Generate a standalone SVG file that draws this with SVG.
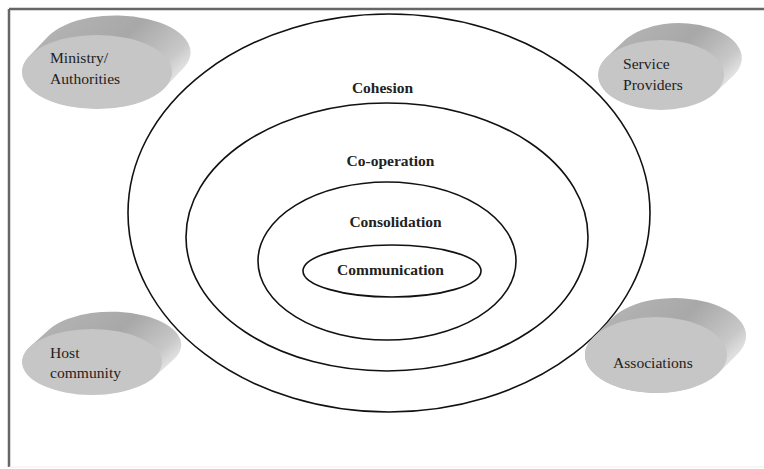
<svg xmlns="http://www.w3.org/2000/svg" width="764" height="469" viewBox="0 0 764 469">
<defs>
<linearGradient id="back" x1="0" y1="0" x2="1" y2="0.6">
<stop offset="0" stop-color="#b8b8b8"/>
<stop offset="0.55" stop-color="#a8a8a8"/>
<stop offset="0.85" stop-color="#c8c8c8"/>
<stop offset="1" stop-color="#ececec"/>
</linearGradient>
</defs>
<style>
.ring{fill:none;stroke:#111;stroke-width:1.6}
.lbl{font-family:'Liberation Serif','Times New Roman','DejaVu Serif',serif;font-weight:bold;font-size:15.5px;fill:#222;text-anchor:middle}
.txt{font-family:'Liberation Serif','Times New Roman','DejaVu Serif',serif;font-size:15.6px;fill:#222}
.back{fill:url(#back)}
.front{fill:#c6c6c6}
</style>
<rect width="764" height="469" fill="#fff"/>
<g id="frame" stroke="#666" stroke-width="2.5" fill="none">
<line x1="9" y1="9" x2="764" y2="9"/>
<line x1="9" y1="9" x2="9" y2="467"/>
</g>
<line x1="9" y1="467" x2="764" y2="467" stroke="#eee" stroke-width="1"/>
<g id="connectors"></g>
<g id="cohesion">
<ellipse class="ring" cx="389" cy="213" rx="261" ry="199"/>
<text class="lbl" x="382.5" y="93">Cohesion</text>
</g>
<g id="cooperation">
<ellipse class="ring" cx="387" cy="237" rx="201" ry="134"/>
<text class="lbl" x="390.5" y="166">Co-operation</text>
</g>
<g id="consolidation">
<ellipse class="ring" cx="387" cy="261" rx="129" ry="79"/>
<text class="lbl" x="395.5" y="227">Consolidation</text>
</g>
<g id="communication">
<ellipse class="ring" cx="392" cy="271" rx="89" ry="26"/>
<text class="lbl" x="390.5" y="275">Communication</text>
</g>
<g id="ministry">
<path class="back" d="M29,56.4 L48,36.4 A75,37 0 0 1 184,67.6 L165,87.6 A75,37 0 0 1 29,56.4 Z"/>
<ellipse class="front" cx="97" cy="72" rx="75" ry="37"/>
<text class="txt" x="50" y="63">Ministry/</text>
<text class="txt" x="50" y="84">Authorities</text>
</g>
<g id="service">
<path class="back" d="M606.7,57.3 L625.7,39.3 A63,35 0 0 1 734.3,74.7 L715.3,92.7 A63,35 0 0 1 606.7,57.3 Z"/>
<ellipse class="front" cx="661" cy="75" rx="63" ry="35"/>
<text class="txt" x="623" y="69">Service</text>
<text class="txt" x="623" y="90">Providers</text>
</g>
<g id="host">
<path class="back" d="M30,346.7 L50,328.7 A70,33 0 0 1 174,359.3 L154,377.3 A70,33 0 0 1 30,346.7 Z"/>
<ellipse class="front" cx="92" cy="362" rx="70" ry="33"/>
<text class="txt" x="50" y="358">Host</text>
<text class="txt" x="50" y="378">community</text>
</g>
<g id="associations">
<path class="back" d="M593.4,337 L612.4,318 A71,38 0 0 1 737.6,354 L718.6,373 A71,38 0 0 1 593.4,337 Z"/>
<ellipse class="front" cx="656" cy="355" rx="71" ry="38"/>
<text class="txt" x="613" y="368">Associations</text>
</g>
</svg>
